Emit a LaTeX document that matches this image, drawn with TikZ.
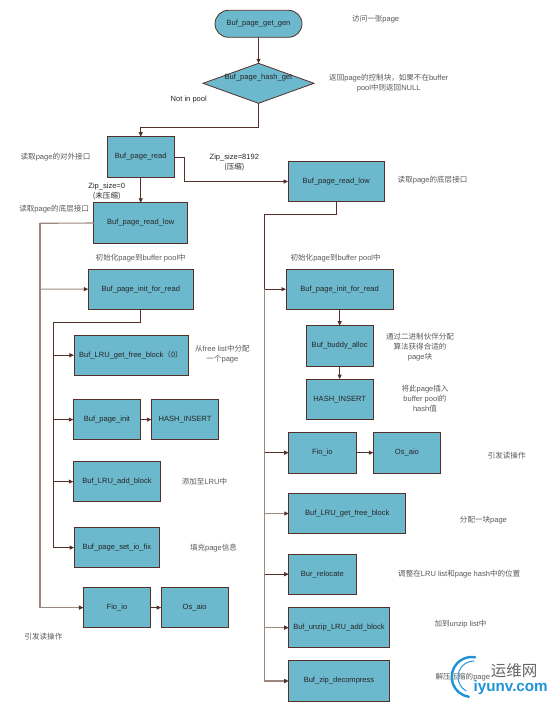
\documentclass[tikz,border=0pt]{standalone}
\usepackage{fontspec}
\setmainfont{Liberation Sans}
\newfontfamily\cjk{Noto Sans CJK SC}
\newcommand{\zh}[1]{{\cjk #1}}
\usetikzlibrary{shapes,arrows.meta,positioning}
\definecolor{boxfill}{HTML}{6CB8CD}
\definecolor{linedark}{HTML}{54302A}
\definecolor{linepale}{HTML}{9C8780}
\definecolor{wmblue}{HTML}{1F93D8}

\begin{document}
\begin{tikzpicture}[
    x=1pt, y=-1pt,
    node distance=13pt and 10.7pt,
    every node/.style={font=\fontsize{7.55}{10}\selectfont, text=black!85},
    block/.style={draw=linedark, fill=boxfill, line width=.8pt, inner sep=0pt, outer sep=0pt, minimum height=40.4pt, align=center},
    terminal/.style={block, rounded rectangle, minimum width=87pt, minimum height=27pt},
    decision/.style={block, diamond, aspect=2.7, minimum width=111pt, minimum height=40pt},
    note/.style={align=center, inner sep=0pt, text=black!65},
    flow/.style={draw=linedark, line width=.8pt, -{Triangle[length=4.5pt, width=4pt, color=linedark]}},
    trunk/.style={flow, draw=linepale, line width=1.1pt}
]
\useasboundingbox (0,0) rectangle (554,704);

\node[terminal] (get_gen) at (258.5,23.8) {Buf\_page\_get\_gen};
\node[decision, below=26pt of get_gen, label={[yshift=6pt]center:Buf\_page\_hash\_get}] (hash_get) {};
\node[block, minimum width=67.5pt, below=33.4pt of hash_get, xshift=-117.75pt] (page_read) {Buf\_page\_read};
\node[block, minimum width=94pt, below=25.7pt of page_read] (low_l) {Buf\_page\_read\_low};
\node[block, minimum width=105pt, below=25.7pt of low_l] (init_l) {Buf\_page\_init\_for\_read};
\node[block, minimum width=114pt, below=25.7pt of init_l, xshift=-9.8pt] (free_l) {Buf\_LRU\_get\_free\_block\zh{（0）}};
\node[block, minimum width=67.4pt, below=24pt of free_l, xshift=-24pt] (page_init) {Buf\_page\_init};
\node[block, minimum width=67.4pt, right=of page_init] (hash_l) {HASH\_INSERT};
\node[block, minimum width=87.4pt, below=21.6pt of page_init, xshift=10pt] (add_l) {Buf\_LRU\_add\_block};
\node[block, minimum width=85.7pt, below=25.6pt of add_l] (io_fix) {Buf\_page\_set\_io\_fix};
\node[block, minimum width=67pt, below=19.6pt of io_fix] (fio_l) {Fio\_io};
\node[block, minimum width=67pt, right=of fio_l] (os_l) {Os\_aio};

\node[block, minimum width=96.5pt, right=113.5pt of page_read, yshift=-24.6pt] (low_r) {Buf\_page\_read\_low};
\node[block, minimum width=107.3pt, below=67.3pt of low_r, xshift=3.4pt] (init_r) {Buf\_page\_init\_for\_read};
\node[block, minimum width=67.3pt, below=16.3pt of init_r] (buddy) {Buf\_buddy\_alloc};
\node[block, minimum width=67.3pt, below=of buddy] (hash_r) {HASH\_INSERT};
\node[block, minimum width=67.3pt, below=of hash_r, xshift=-17.3pt] (fio_r) {Fio\_io};
\node[block, minimum width=67.3pt, right=17.3pt of fio_r] (os_r) {Os\_aio};
\node[block, minimum width=117pt, below=20.4pt of fio_r, xshift=24.9pt] (free_r) {Buf\_LRU\_get\_free\_block};
\node[block, minimum width=67.3pt, below=20.3pt of free_r, xshift=-24.9pt] (relocate) {Bur\_relocate};
\node[block, minimum width=100.6pt, below=of relocate, xshift=16.65pt] (unzip) {Buf\_unzip\_LRU\_add\_block};
\node[block, minimum width=100.6pt, below=of unzip] (decompress) {Buf\_zip\_decompress};

\node[note, right=50pt of get_gen, yshift=4.5pt] (n_get) {\zh{访问一张}page};
\node[note, right=15pt of hash_get] (n_hash) {\zh{返回}page\zh{的控制块，如果不在}buffer\\pool\zh{中则返回}NULL};
\node[note, text=black!85, left=-4pt of hash_get, yshift=-16.7pt] (n_miss) {Not in pool};
\node[note, left=16.5pt of page_read] (n_read) {\zh{读取}page\zh{的对外接口}};
\node[note, text=black!85, right=35pt of page_read, yshift=-6pt] (n_8192) {Zip\_size=8192\\\zh{(压缩)}};
\node[note, right=13pt of low_r, yshift=1pt] (n_low_r) {\zh{读取}page\zh{的底层接口}};
\node[note, text=black!85, below=5.7pt of page_read, xshift=-34pt] (n_zero) {Zip\_size=0\\\zh{(未压缩)}};
\node[note, left=4.6pt of low_l, yshift=14pt] (n_low_l) {\zh{读取}page\zh{的底层接口}};
\node[note, above=7pt of init_l] (n_init_l) {\zh{初始化}page\zh{到}buffer pool\zh{中}};
\node[note, above=7pt of init_r, xshift=-4pt] (n_init_r) {\zh{初始化}page\zh{到}buffer pool\zh{中}};
\node[note, right=7pt of free_l, yshift=1pt] (n_free_l) {\zh{从}free list\zh{中分配}\\\zh{一个}page};
\node[note, right=21pt of add_l] (n_add) {\zh{添加至}LRU\zh{中}};
\node[note, right=30pt of io_fix] (n_fix) {\zh{填充}page\zh{信息}};
\node[note, below=5.5pt of fio_l, xshift=-73.5pt] (n_fio_l) {\zh{引发读操作}};
\node[note, right=12.5pt of buddy, yshift=-1.5pt] (n_buddy) {\zh{通过二进制伙伴分配}\\\zh{算法获得合适的}\\page\zh{块}};
\node[note, right=28pt of hash_r, yshift=.5pt] (n_insert) {\zh{将此}page\zh{插入}\\buffer pool\zh{的}\\hash\zh{值}};
\node[note, right=47pt of os_r, yshift=-3.3pt] (n_fio_r) {\zh{引发读操作}};
\node[note, right=54pt of free_r, yshift=-6.5pt] (n_free_r) {\zh{分配一块}page};
\node[note, right=42pt of relocate] (n_relocate) {\zh{调整在}LRU list\zh{和}page hash\zh{中的位置}};
\node[note, right=45pt of unzip, yshift=3pt] (n_unzip) {\zh{加到}unzip list\zh{中}};
\node[note, right=46pt of decompress, yshift=3.7pt] (n_zip) {\zh{解压压缩的}page};

\coordinate (bus_l) at (40,223.3);
\coordinate (bus_in) at (53.3,322);
\coordinate (bus_r) at (264.7,214.3);

\draw[flow] (get_gen) -- (hash_get);
\draw[flow] (hash_get.south) -- ++(0,23.7) -| (page_read.north);
\draw[flow] (page_read) -- (low_l);
\draw[flow] (page_read.east) -- ++(10,0) |- (low_r.west);
\draw[trunk] (low_l.west) -- (bus_l) |- (init_l.west);
\draw[trunk] (bus_l) |- (fio_l.west);
\draw[flow] (init_l.south) |- (bus_in) |- (free_l.west);
\draw[flow] (bus_in) |- (page_init.west);
\draw[flow] (bus_in) |- (add_l.west);
\draw[flow] (bus_in) |- (io_fix.west);
\draw[flow] (page_init) -- (hash_l);
\draw[flow] (fio_l) -- (os_l);
\draw[flow] (low_r.south) |- (bus_r) |- (init_r.west);
\draw[flow] (init_r) -- (buddy);
\draw[flow] (buddy) -- (hash_r);
\draw[flow] (fio_r) -- (os_r);
\draw[trunk] (bus_r |- init_r.west) |- (decompress.west);
\draw[flow] (bus_r |- fio_r.west) -- (fio_r.west);
\draw[trunk] (bus_r |- free_r.west) -- (free_r.west);
\draw[flow] (bus_r |- relocate.west) -- (relocate.west);
\draw[trunk] (bus_r |- unzip.west) -- (unzip.west);

\draw[wmblue, line width=2.4pt, line cap=round] (471.7,677) ++(80:20pt) arc[start angle=80, end angle=262, radius=20pt];
\draw[wmblue, line width=1pt, line cap=round] (474,677) ++(90:16pt) arc[start angle=90, end angle=240, radius=16pt];
\node[font=\fontsize{15.5}{16}\selectfont\cjk, text=black!60] (wm_name) at (514,670.7) {运维网};
\node[font=\fontsize{15.2}{16}\selectfont\bfseries, text=wmblue] (wm_site) at (510.7,688) {iyunv.com};
\end{tikzpicture}
\end{document}
